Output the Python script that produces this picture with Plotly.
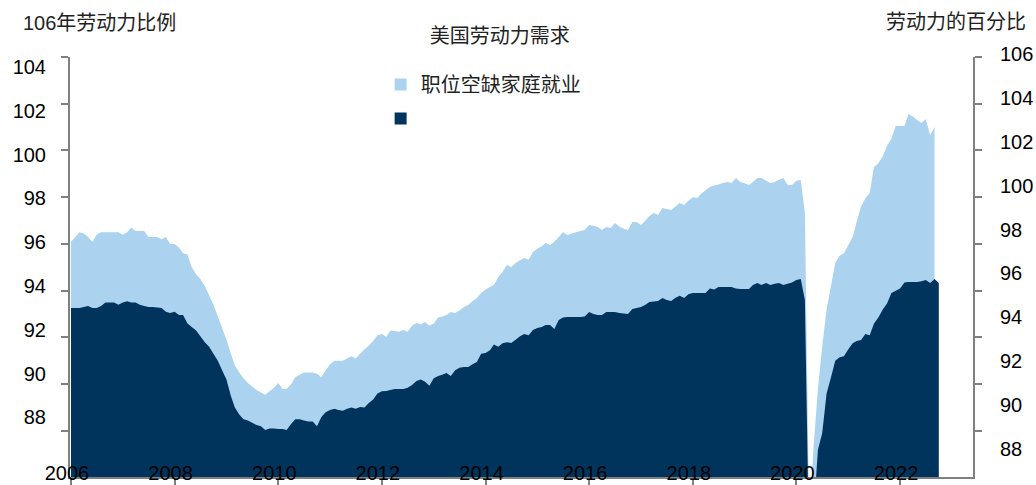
import pandas as pd
import plotly.graph_objects as go

# Monthly series, Jan 2006 onward
vacancies_plus_jobs = [
    96.1, 96.3, 96.5, 96.45, 96.3, 96.1, 96.4, 96.5, 96.5, 96.5, 96.5, 96.5,      # 2006
    96.4, 96.5, 96.7, 96.55, 96.55, 96.55, 96.3, 96.3, 96.3, 96.2, 96.3, 96.0,    # 2007
    96.0, 95.85, 95.6, 95.55, 95.0, 94.7, 94.5, 94.2, 93.8, 93.4, 92.9, 92.4,     # 2008
    91.9, 91.3, 90.8, 90.5, 90.25, 90.05, 89.9, 89.75, 89.65, 89.55, 89.7, 89.85, # 2009
    90.05, 89.8, 89.8, 90.0, 90.3, 90.4, 90.5, 90.5, 90.5, 90.45, 90.3, 90.6,     # 2010
    90.85, 91.0, 91.0, 91.0, 91.1, 91.2, 91.1, 91.3, 91.5, 91.65, 91.85, 92.1,    # 2011
    92.15, 92.02, 92.3, 92.28, 92.24, 92.32, 92.24, 92.5, 92.62, 92.55, 92.66, 92.5,  # 2012
    92.6, 92.85, 92.9, 92.96, 93.09, 93.05, 93.15, 93.3, 93.39, 93.55, 93.69, 93.9,   # 2013
    94.05, 94.16, 94.25, 94.59, 94.8, 95.1, 95.02, 95.19, 95.3, 95.4, 95.32, 95.66,   # 2014
    95.8, 95.9, 96.04, 95.96, 96.09, 96.3, 96.5, 96.38, 96.45, 96.5, 96.55, 96.6,     # 2015
    96.81, 96.78, 96.73, 96.6, 96.73, 96.68, 96.9, 96.75, 96.65, 96.6, 96.94, 96.94,  # 2016
    96.81, 97.0, 97.2, 97.33, 97.24, 97.54, 97.5, 97.45, 97.6, 97.75, 97.67, 97.85,   # 2017
    98.0, 97.97, 98.15, 98.3, 98.44, 98.5, 98.55, 98.61, 98.65, 98.61, 98.82, 98.65,  # 2018
    98.6, 98.52, 98.65, 98.82, 98.82, 98.7, 98.61, 98.65, 98.75, 98.82, 98.52, 98.52, # 2019
    98.7, 98.74, 97.33, 84.0, 87.3, 89.8, 91.6, 93.2, 94.2, 95.19, 95.5, 95.6,        # 2020
    95.95, 96.3, 96.95, 97.6, 97.95, 98.18, 99.29, 99.45, 99.75, 100.2, 100.5, 101.05,  # 2021
    101.05, 101.05, 101.56, 101.45, 101.3, 101.18, 101.35, 100.65, 101.0,             # 2022
]

household_jobs = [
    93.26, 93.26, 93.26, 93.3, 93.35, 93.26, 93.26, 93.35, 93.5, 93.5, 93.5, 93.4,    # 2006
    93.5, 93.55, 93.5, 93.5, 93.4, 93.35, 93.3, 93.3, 93.28, 93.26, 93.1, 93.05,      # 2007
    93.1, 92.96, 92.96, 92.6, 92.45, 92.3, 92.05, 91.8, 91.6, 91.3, 91.0, 90.6,       # 2008
    90.2, 89.5, 89.0, 88.7, 88.5, 88.45, 88.35, 88.25, 88.2, 88.04, 88.1, 88.1,       # 2009
    88.08, 88.08, 88.04, 88.3, 88.5, 88.5, 88.45, 88.4, 88.4, 88.2, 88.6, 88.8,       # 2010
    88.9, 88.95, 88.9, 88.86, 88.95, 89.0, 88.95, 89.03, 89.0, 89.2, 89.35, 89.6,     # 2011
    89.7, 89.71, 89.75, 89.8, 89.8, 89.8, 89.85, 89.97, 90.14, 90.2, 90.1, 89.93,     # 2012
    90.25, 90.35, 90.4, 90.48, 90.35, 90.6, 90.7, 90.74, 90.74, 90.85, 90.95, 91.3,   # 2013
    91.34, 91.45, 91.7, 91.6, 91.75, 91.8, 91.76, 91.9, 92.05, 92.15, 92.1, 92.32,    # 2014
    92.4, 92.45, 92.53, 92.53, 92.36, 92.75, 92.85, 92.88, 92.88, 92.88, 92.88, 92.9, # 2015
    93.09, 93.0, 92.96, 92.96, 93.09, 93.09, 93.09, 93.05, 93.03, 93.0, 93.22, 93.26, # 2016
    93.3, 93.4, 93.52, 93.54, 93.56, 93.69, 93.6, 93.56, 93.7, 93.78, 93.69, 93.85,   # 2017
    93.9, 93.9, 93.9, 93.9, 94.1, 94.05, 94.16, 94.16, 94.16, 94.16, 94.1, 94.07,     # 2018
    94.07, 94.07, 94.25, 94.33, 94.25, 94.33, 94.25, 94.3, 94.33, 94.25, 94.3, 94.35, # 2019
    94.46, 94.5, 93.6, 82.5, 84.4, 87.2, 87.9, 89.6, 90.3, 91.0, 91.15, 91.2,         # 2020
    91.5, 91.75, 91.85, 91.89, 92.15, 92.1, 92.6, 92.85, 93.2, 93.45, 93.9, 94.0,     # 2021
    94.1, 94.35, 94.37, 94.37, 94.37, 94.4, 94.46, 94.33, 94.5, 94.33,                # 2022
]

left_ticks = [88, 90, 92, 94, 96, 98, 100, 102, 104]
right_ticks = [88, 90, 92, 94, 96, 98, 100, 102, 104, 106]
year_ticks = [f"{y}-01-01" for y in range(2006, 2023, 2)]
year_labels = [str(y) for y in range(2006, 2023, 2)]

series_name = "职位空缺家庭就业"
chart_title = "美国劳动力需求"
left_title = "106年劳动力比例"
right_title = "劳动力的百分比"

LIGHT = "#ABD2EE"
DARK = "#00345C"
AXIS = "#808080"
FONT = "Liberation Sans, Arial, Noto Sans CJK SC, sans-serif"
FS = 20

# paper area runs from y=50 to y=477 px; the data panel starts at 57 px
PAPER_TOP, PANEL_TOP, BOTTOM = 50, 57, 477
PAPER_H = BOTTOM - PAPER_TOP
PANEL = [0, (BOTTOM - PANEL_TOP) / PAPER_H]


def py(px):
    """page pixel row -> paper fraction"""
    return (BOTTOM - px) / PAPER_H


dates_light = pd.date_range("2006-01-01", periods=len(vacancies_plus_jobs), freq="MS")
dates_dark = pd.date_range("2006-01-01", periods=len(household_jobs), freq="MS")

fig = go.Figure()
fig.add_trace(go.Scatter(
    x=dates_light, y=vacancies_plus_jobs, mode="none", fill="tozeroy",
    fillcolor=LIGHT, showlegend=False, hoverinfo="skip"))
fig.add_trace(go.Scatter(
    x=dates_dark, y=household_jobs, mode="none", fill="tozeroy",
    fillcolor=DARK, showlegend=False, hoverinfo="skip"))

# legend swatches
fig.add_trace(go.Scatter(
    x=[None], y=[None], mode="markers", name=series_name, legendgroup="a",
    marker=dict(symbol="square", size=12, color=LIGHT)))
fig.add_trace(go.Scatter(
    x=[None], y=[None], mode="markers", name=" ", legendgroup="b",
    marker=dict(symbol="square", size=12, color=DARK)))

# label scales on both sides plus the right-hand tick marks
fig.add_trace(go.Scatter(x=[None], y=[None], yaxis="y2", showlegend=False))
fig.add_trace(go.Scatter(x=[None], y=[None], yaxis="y3", showlegend=False))
fig.add_trace(go.Scatter(x=[None], y=[None], yaxis="y4", showlegend=False))

fig.update_layout(
    width=1036, height=485,
    margin=dict(l=70, r=63, t=PAPER_TOP, b=485 - BOTTOM, autoexpand=False),
    paper_bgcolor="white", plot_bgcolor="rgba(0,0,0,0)",
    font=dict(family=FONT, size=FS, color="#111111"),
    showlegend=True,
    legend=dict(x=0.344, y=py(65), xanchor="left", yanchor="top",
                bgcolor="rgba(0,0,0,0)", tracegroupgap=5,
                traceorder="grouped",
                font=dict(size=FS, color="#222222", family=FONT)),
    xaxis=dict(
        type="date", range=["2005-12-25", "2023-05-30"],
        tickvals=year_ticks, ticktext=year_labels,
        showgrid=False, zeroline=False, automargin=False,
        showline=True, linecolor=AXIS, linewidth=1.5,
        ticks="outside", ticklen=8, tickcolor=AXIS, tickwidth=1.5,
        ticklabelstandoff=-31, ticklabelshift=-4, layer="above traces",
        tickfont=dict(size=FS, color="#000000"),
    ),
    # left scale: spine and tick marks
    yaxis=dict(
        domain=PANEL, range=[86.03, 104], tickvals=left_ticks,
        showgrid=False, zeroline=False, automargin=False,
        showline=True, linecolor=AXIS, linewidth=1.5,
        ticks="outside", ticklen=7, tickcolor=AXIS, tickwidth=1.5,
        showticklabels=False, layer="above traces",
    ),
    # left scale: labels
    yaxis4=dict(
        overlaying="y", side="left", anchor="x",
        range=[85.28, 104.46], tickvals=left_ticks,
        showgrid=False, zeroline=False, showline=False, automargin=False,
        ticks="", ticklabelstandoff=23,
        tickfont=dict(size=FS, color="#000000"),
    ),
    # right scale: spine and tick marks
    yaxis3=dict(
        overlaying="y", side="right", anchor="x",
        range=[86.03, 104], tickvals=left_ticks,
        showgrid=False, zeroline=False, automargin=False,
        showline=True, linecolor=AXIS, linewidth=1.5,
        ticks="outside", ticklen=7, tickcolor=AXIS, tickwidth=1.5,
        showticklabels=False,
    ),
    # right scale: labels (spans the full paper height)
    yaxis2=dict(
        anchor="x", side="right", domain=[0, 1],
        range=[86.71, 106.2], tickvals=right_ticks,
        showgrid=False, zeroline=False, showline=False, automargin=False,
        ticks="", ticklabelstandoff=26,
        tickfont=dict(size=FS, color="#000000"),
    ),
    title=dict(text=chart_title, xref="paper", yref="container",
               x=0.476, y=1 - 36 / 485, xanchor="center", yanchor="middle",
               font=dict(size=FS, color="#222222", family=FONT)),
)

fig.add_annotation(text=left_title, xref="paper", yref="paper",
                   x=(21 - 70) / 903, y=py(23), xanchor="left", yanchor="middle",
                   showarrow=False, font=dict(size=FS, color="#222222", family=FONT))
fig.add_annotation(text=right_title, xref="paper", yref="paper",
                   x=(1028 - 70) / 903, y=py(22), xanchor="right", yanchor="middle",
                   showarrow=False, font=dict(size=FS, color="#222222", family=FONT))

fig.write_html("out.html")
